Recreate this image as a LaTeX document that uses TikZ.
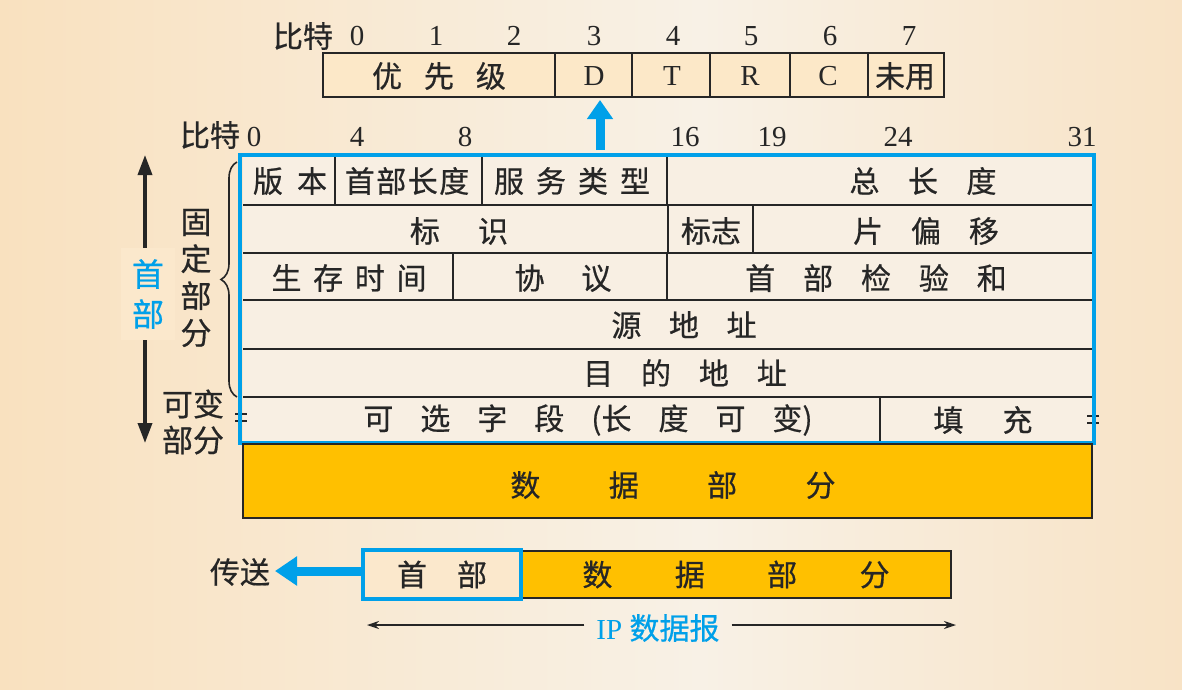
\documentclass[tikz,border=0pt]{standalone}
\usepackage{fontspec}
\setmainfont{Liberation Serif}
\newfontfamily\cjk[FakeBold=0.6]{Noto Sans CJK SC}
\usetikzlibrary{arrows.meta, positioning, decorations.pathreplacing, calc}
\definecolor{ipblue}{HTML}{00A0E9}
\definecolor{dataorange}{HTML}{FFC000}
\definecolor{cellfill}{HTML}{F8EFE3}
\definecolor{tosfill}{HTML}{FCE8C8}
\definecolor{hdrfill}{HTML}{FBE8CC}
\definecolor{ink}{HTML}{262626}
\definecolor{bgleft}{HTML}{F9E1BF}
\definecolor{bgmid}{HTML}{F8F1E6}
\definecolor{bgright}{HTML}{F8E3C6}
\newcommand{\fgap}[1]{\hspace{#1em}}
\tikzset{
  field/.style={font=\cjk\fontsize{30}{32}\selectfont, text=ink, inner sep=0pt},
  bitnum/.style={font=\fontsize{29}{30}\selectfont, text=ink, inner sep=0pt},
  cellline/.style={draw=ink, line width=1.8pt},
}
\begin{document}
\begin{tikzpicture}[x=1pt, y=-1pt]
  % background
  \useasboundingbox (0,0) rectangle (1182,689);
  \fill[left color=bgleft, right color=bgmid] (0,0) rectangle (700,689);
  \fill[left color=bgmid, right color=bgright] (700,0) rectangle (1182,689);
  % TOS byte (top)
  \node[field] (tosbits) at (303,36) {比特};
  \foreach \b/\x in {0/357, 1/436, 2/514, 3/594, 4/673, 5/751, 6/830, 7/909}
    \node[bitnum] (tb\b) at (\x,36) {\b};
  \draw[cellline, fill=tosfill] (323,53) rectangle (944,97);
  \foreach \x in {555, 632, 710, 790, 868}
    \draw[cellline] (\x,53) -- (\x,97);
  \node[field] (prec) at (439,76) {优\fgap{0.73}先\fgap{0.73}级};
  \foreach \n/\t/\x in {dbit/D/594, tbit/T/672, rbit/R/750, cbit/C/828}
    \node[bitnum] (\n) at (\x,76) {\t};
  \node[field] (unused) at (905,76) {未用};
  \coordinate (tosfoot) at (600,150);
  \coordinate (tostip) at (600,100);
  \draw[ipblue, line width=9pt, -{Triangle[width=25pt,length=19pt]}]
    (tosfoot) -- (tostip);
  % header bit scale
  \node[field] (hdbits) at (210,135) {比特};
  \foreach \b/\x in {0/254, 4/357, 8/465, 16/685, 19/772, 24/898, 31/1082}
    \node[bitnum] (hb\b) at (\x,137) {\b};
  % header rows
  \fill[cellfill] (243,157) rectangle (1092,443);
  \foreach \y in {205, 253, 300, 349, 397}
    \draw[cellline] (243,\y) -- (1092,\y);
  \foreach \x/\ya/\yb in {335/157/205, 482/157/205, 667/157/205,
                          668/205/253, 753/205/253,
                          453/253/300, 667/253/300, 880/397/443}
    \draw[cellline] (\x,\ya) -- (\x,\yb);
  \node[field] (ver) at (290,181) {版\fgap{0.47}本};
  \node[field] (ihl) at (407,181) {首\fgap{0.05}部\fgap{0.05}长\fgap{0.05}度};
  \node[field] (tos) at (572,181) {服\fgap{0.4}务\fgap{0.4}类\fgap{0.4}型};
  \node[field] (totlen) at (923,181) {总\fgap{0.95}长\fgap{0.95}度};
  \node[field] (ident) at (459,231) {标\fgap{1.27}识};
  \node[field] (flags) at (711,231) {标志};
  \node[field] (fragoff) at (926,231) {片\fgap{0.93}偏\fgap{0.93}移};
  \node[field] (ttl) at (349,278) {生\fgap{0.39}存\fgap{0.39}时\fgap{0.39}间};
  \node[field] (proto) at (563,278) {协\fgap{1.23}议};
  \node[field] (chksum) at (876,278) {首\fgap{0.93}部\fgap{0.93}检\fgap{0.93}验\fgap{0.93}和};
  \node[field] (srcaddr) at (684,325) {源\fgap{0.92}地\fgap{0.92}址};
  \node[field] (dstaddr) at (685,373) {目\fgap{0.93}的\fgap{0.93}地\fgap{0.93}址};
  \node[field] (options) at (588,420)
    {可\fgap{0.9}选\fgap{0.9}字\fgap{0.9}段\fgap{0.9}(长\fgap{0.9}度\fgap{0.9}可\fgap{0.9}变)};
  \node[field] (padding) at (983,420) {填\fgap{1.3}充};
  % break marks
  \foreach \x/\y in {235/414, 235/421, 1087/416, 1087/423}
    \draw[ink, line width=2.2pt] (\x,\y) -- ++(12,0);
  \draw[ipblue, line width=4pt] (240,155) rectangle (1094,443);
  % data part
  \draw[cellline, fill=dataorange] (243,444) rectangle (1092,518);
  \node[field] (data) at (673,485) {数\fgap{2.28}据\fgap{2.28}部\fgap{2.28}分};
  % left side labels
  \coordinate (hdtop) at (145,155);
  \coordinate (hdbot) at (145,443);
  \draw[ink, line width=3.5pt, {Triangle[width=14pt,length=20pt]}-{Triangle[width=14pt,length=20pt]}]
    (hdtop) -- (hdbot);
  \node[fill=hdrfill, minimum width=54, minimum height=92, inner sep=0pt, align=center,
        text=ipblue, font=\cjk\fontsize{32}{40}\selectfont] (hdrlabel) at (148,294) {首\\部};
  \draw[ink, line width=1.6pt, decorate, decoration={brace, amplitude=16pt}]
    (237,397) -- (237,162);
  \node[field, align=center, font=\cjk\fontsize{31}{37}\selectfont] (fixed) at (196,278)
    {固\\定\\部\\分};
  \node[field, align=center, font=\cjk\fontsize{31}{36}\selectfont] (variable) at (193,422)
    {可变\\部分};
  % bottom datagram
  \node[cellline, fill=dataorange, minimum width=430, minimum height=47, inner sep=0pt,
        field] (body) at (736,574.5) {数\fgap{2.08}据\fgap{2.08}部\fgap{2.08}分};
  \node[draw=ipblue, line width=3.5pt, fill=hdrfill, minimum width=158, minimum height=49,
        inner sep=0pt, field] (hdr) at (442,574.5) {首\fgap{1.0}部};
  \coordinate (sendtip) at (275,571);
  \draw[ipblue, line width=9pt, -{Triangle[width=28pt,length=22pt]}]
    (hdr.west |- sendtip) -- (sendtip);
  \node[field] (send) at (240,572) {传送};
  \node[text=ipblue, inner xsep=12pt, inner ysep=0pt, font=\fontsize{29}{30}\selectfont]
    (ipdg) at (658,628) {IP {\cjk\fontsize{30}{30}\selectfont 数据报}};
  \coordinate (dgl) at (367,625);
  \coordinate (dgr) at (956,625);
  \draw[ink, line width=1.6pt, -{Stealth[length=12pt,width=8pt]}] (dgl -| ipdg.west) -- (dgl);
  \draw[ink, line width=1.6pt, -{Stealth[length=12pt,width=8pt]}] (dgr -| ipdg.east) -- (dgr);
\end{tikzpicture}
\end{document}
